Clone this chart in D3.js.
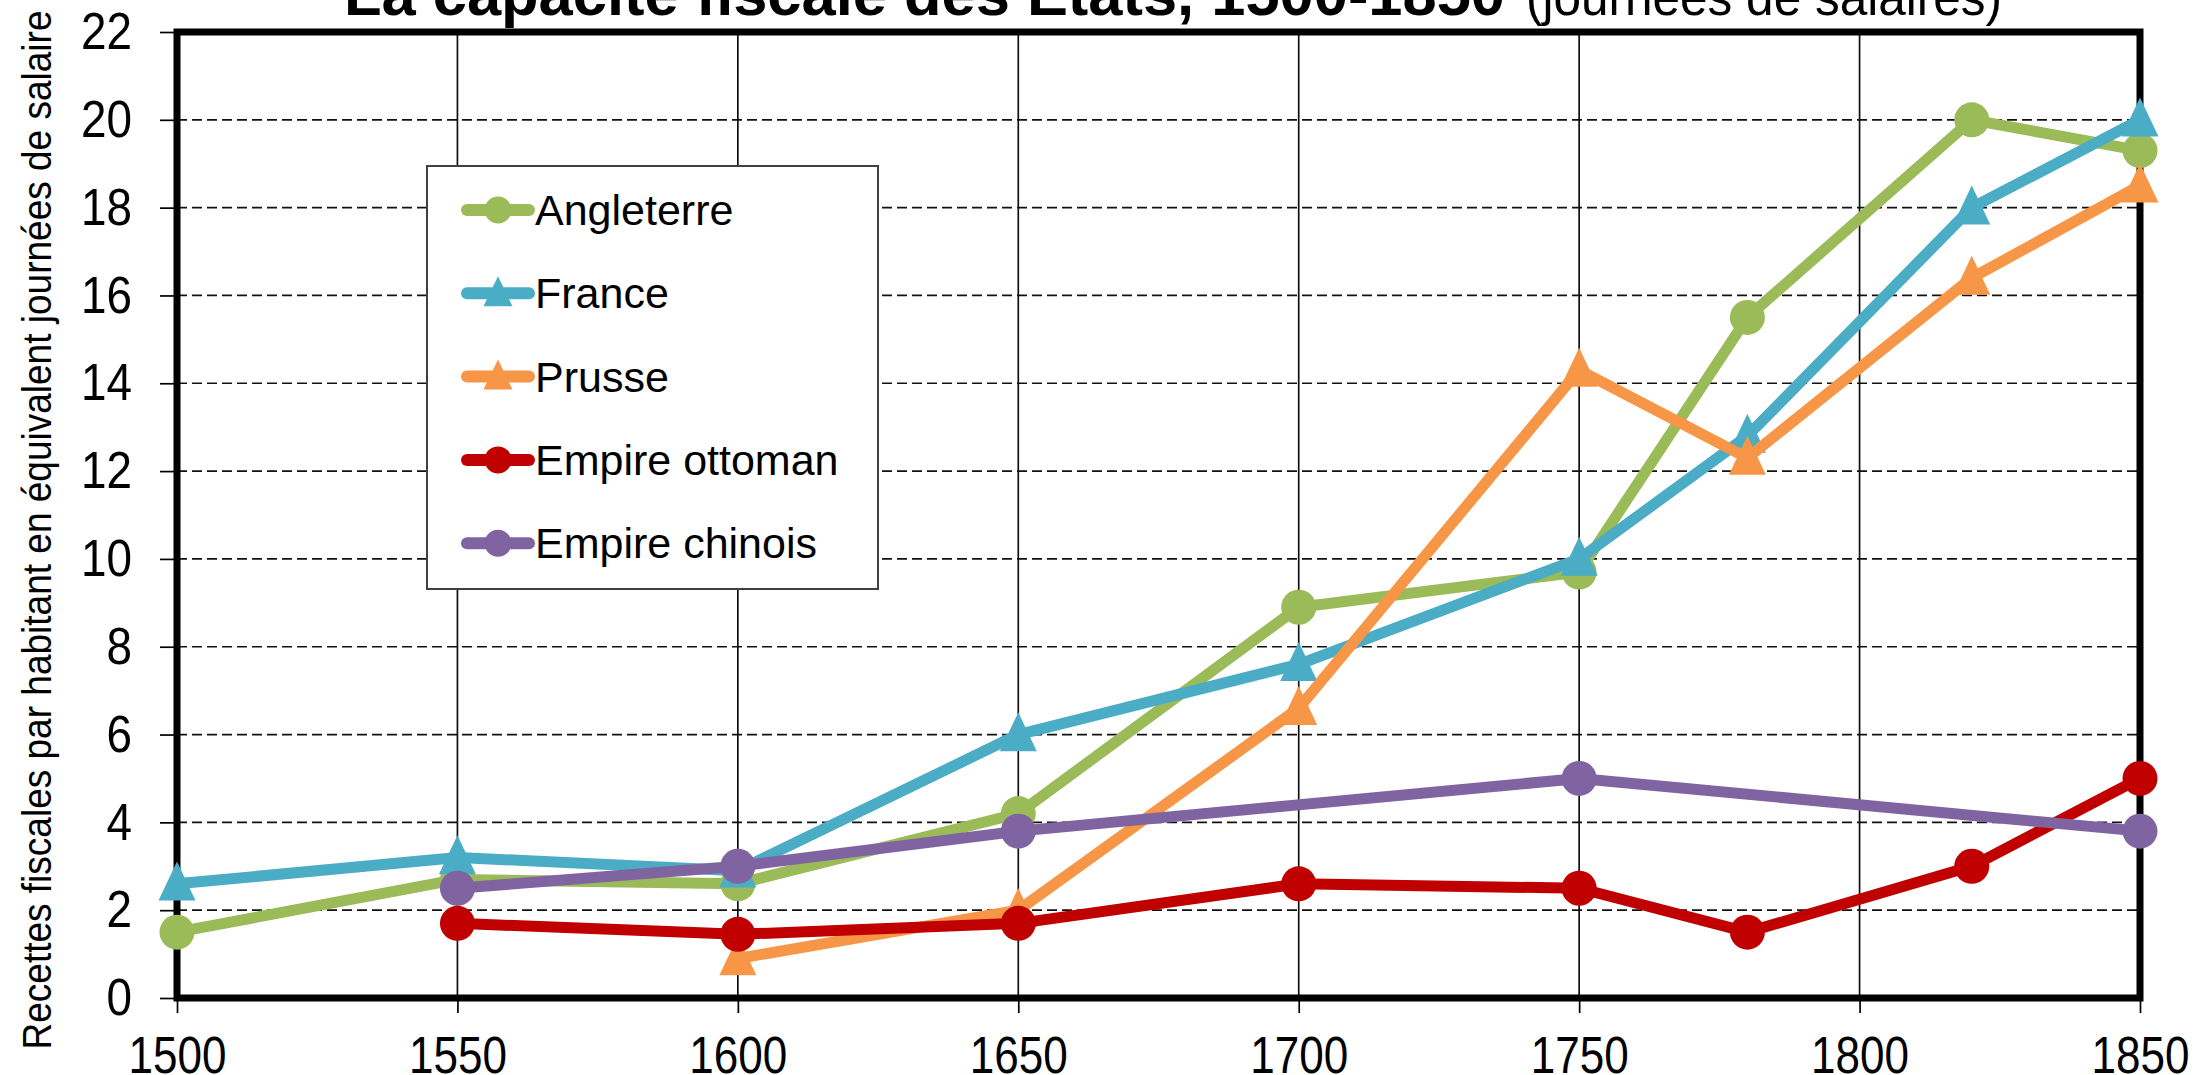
<!DOCTYPE html>
<html>
<head>
<meta charset="utf-8">
<script src="https://cdn.jsdelivr.net/npm/d3@7"></script>
<style>
    body { margin: 0; background: #fff; }
    svg { display: block; font-family: "Liberation Sans", Arial, sans-serif; }
</style>
</head>
<body>
<div id="chart"></div>
<script>
// Axis ticks
var xTicks = [1500, 1550, 1600, 1650, 1700, 1750, 1800, 1850];
var yTicks = [0, 2, 4, 6, 8, 10, 12, 14, 16, 18, 20, 22];

// Series
var seriesNames = ["Angleterre", "France", "Prusse", "Empire ottoman", "Empire chinois"];

var angleterreYears = [1500, 1550, 1600, 1650, 1700, 1750, 1780, 1820, 1850];
var angleterreValues = [1.5, 2.7, 2.6, 4.2, 8.9, 9.7, 15.5, 20.0, 19.3];

var franceYears = [1500, 1550, 1600, 1650, 1700, 1750, 1780, 1820, 1850];
var franceValues = [2.6, 3.2, 2.9, 6.0, 7.6, 10.0, 12.8, 18.0, 20.0];

var prusseYears = [1600, 1650, 1700, 1750, 1780, 1820, 1850];
var prusseValues = [0.9, 2.0, 6.6, 14.3, 12.3, 16.4, 18.5];

var ottomanYears = [1550, 1600, 1650, 1700, 1750, 1780, 1820, 1850];
var ottomanValues = [1.7, 1.45, 1.7, 2.6, 2.5, 1.5, 3.0, 5.0];

var chinoisYears = [1550, 1600, 1650, 1750, 1850];
var chinoisValues = [2.5, 3.0, 3.8, 5.0, 3.8];

// Styles
var seriesColors = ["#9BBB59", "#4BACC6", "#F79646", "#C00000", "#8064A2"];
var seriesShapes = ["circle", "triangle", "triangle", "circle", "circle"];

var series = seriesNames.map(function (name, i) {
    var years = [angleterreYears, franceYears, prusseYears, ottomanYears, chinoisYears][i];
    var values = [angleterreValues, franceValues, prusseValues, ottomanValues, chinoisValues][i];
    return {
        name: name,
        color: seriesColors[i],
        shape: seriesShapes[i],
        points: d3.zip(years, values)
    };
});

var width = 2200,
    height = 1075,
    plotLeft = 177, plotRight = 2140, plotTop = 32, plotBottom = 998;

var svg = d3.select("#chart")
    .append("svg")
    .attr("width", width)
    .attr("height", height);

var x = d3.scaleLinear().domain([1500, 1850]).range([plotLeft, plotRight]);
var y = d3.scaleLinear().domain([0, 22]).range([plotBottom, plotTop]);

// triangle path, point sits a bit below the middle
function triangle(w, h) {
    return "M0," + (-0.57 * h) + "L" + (w / 2) + "," + (0.43 * h) + "L" + (-w / 2) + "," + (0.43 * h) + "Z";
}

// Title
svg.append("text")
    .attr("x", 344)
    .attr("y", 15)
    .attr("font-size", 62)
    .attr("font-weight", "bold")
    .attr("textLength", 1161)
    .attr("lengthAdjust", "spacingAndGlyphs")
    .text("La capacité fiscale des États, 1500-1850");

svg.append("text")
    .attr("x", 1526)
    .attr("y", 15)
    .attr("font-size", 52)
    .attr("textLength", 476)
    .attr("lengthAdjust", "spacingAndGlyphs")
    .text("(journées de salaires)");

// Y axis title
svg.append("text")
    .attr("transform", "translate(51," + ((plotTop + plotBottom) / 2 + 15) + ") rotate(-90)")
    .attr("text-anchor", "middle")
    .attr("font-size", 40)
    .attr("textLength", 1039)
    .attr("lengthAdjust", "spacingAndGlyphs")
    .text("Recettes fiscales par habitant en équivalent journées de salaire");

// Grid
svg.append("g")
    .selectAll("line")
    .data(yTicks.filter(function (d) { return d > 0 && d < 22; }))
    .enter()
    .append("line")
    .attr("x1", plotLeft).attr("x2", plotRight)
    .attr("y1", function (d) { return y(d); })
    .attr("y2", function (d) { return y(d); })
    .style("stroke", "#111")
    .style("stroke-width", 1.7)
    .style("stroke-dasharray", "10,5");

svg.append("g")
    .selectAll("line")
    .data(xTicks.filter(function (d) { return d > 1500 && d < 1850; }))
    .enter()
    .append("line")
    .attr("y1", plotTop).attr("y2", plotBottom)
    .attr("x1", function (d) { return x(d); })
    .attr("x2", function (d) { return x(d); })
    .style("stroke", "#111")
    .style("stroke-width", 1.7);

// Axes
var yAxis = svg.append("g")
    .attr("transform", "translate(" + plotLeft + ",0)")
    .call(d3.axisLeft(y).tickValues(yTicks).tickSizeInner(17).tickSizeOuter(0).tickPadding(28));

var xAxis = svg.append("g")
    .attr("transform", "translate(0," + plotBottom + ")")
    .call(d3.axisBottom(x).tickValues(xTicks).tickFormat(d3.format("d")).tickSizeInner(15).tickSizeOuter(0).tickPadding(23));

[yAxis, xAxis].forEach(function (a) {
    a.select(".domain").remove();
    a.selectAll(".tick line").style("stroke", "#000").style("stroke-width", 1.7);
    a.selectAll(".tick text")
        .style("font-family", "'Liberation Sans', Arial, sans-serif")
        .style("font-size", "52px")
        .style("fill", "#000")
        .attr("lengthAdjust", "spacingAndGlyphs");
});

// narrower digits, like the original
yAxis.selectAll(".tick text").attr("textLength", function (d) { return String(d).length * 25.5; });
xAxis.selectAll(".tick text").attr("textLength", 98);

// Frame
svg.append("rect")
    .attr("x", plotLeft).attr("y", plotTop)
    .attr("width", plotRight - plotLeft).attr("height", plotBottom - plotTop)
    .style("fill", "none")
    .style("stroke", "#000")
    .style("stroke-width", 7);

// Lines and markers
var line = d3.line()
    .x(function (d) { return x(d[0]); })
    .y(function (d) { return y(d[1]); });

series.forEach(function (s) {
    var g = svg.append("g");

    g.append("path")
        .datum(s.points)
        .attr("d", line)
        .style("fill", "none")
        .style("stroke", s.color)
        .style("stroke-width", 11)
        .style("stroke-linejoin", "round");

    var marks = g.selectAll(".mark")
        .data(s.points)
        .enter();

    if (s.shape === "circle") {
        marks.append("circle")
            .attr("cx", function (d) { return x(d[0]); })
            .attr("cy", function (d) { return y(d[1]); })
            .attr("r", 17.5)
            .style("fill", s.color);
    } else {
        marks.append("path")
            .attr("d", triangle(37, 39))
            .attr("transform", function (d) { return "translate(" + x(d[0]) + "," + y(d[1]) + ")"; })
            .style("fill", s.color);
    }
});

// Legend
var legend = svg.append("g").attr("transform", "translate(427,166)");

legend.append("rect")
    .attr("width", 451)
    .attr("height", 423)
    .style("fill", "#fff")
    .style("stroke", "#404040")
    .style("stroke-width", 2);

var item = legend.selectAll(".item")
    .data(series)
    .enter()
    .append("g")
    .attr("transform", function (d, i) { return "translate(0," + (44 + i * 83.3) + ")"; });

item.append("line")
    .attr("x1", 40).attr("x2", 102)
    .style("stroke", function (d) { return d.color; })
    .style("stroke-width", 12)
    .style("stroke-linecap", "round");

item.each(function (d) {
    var it = d3.select(this);
    if (d.shape === "circle") {
        it.append("circle").attr("cx", 71).attr("r", 13.5).style("fill", d.color);
    } else {
        it.append("path")
            .attr("d", triangle(29, 30))
            .attr("transform", "translate(71,0)")
            .style("fill", d.color);
    }
});

item.append("text")
    .attr("x", 108)
    .attr("y", 15)
    .attr("font-size", 43)
    .style("fill", "#000")
    .text(function (d) { return d.name; });
</script>
</body>
</html>
